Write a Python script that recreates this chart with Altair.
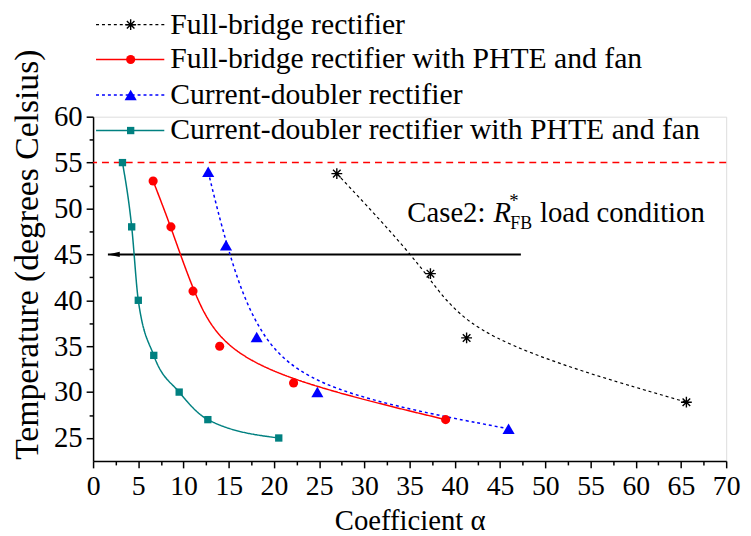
import altair as alt
import pandas as pd

# ---------------- data ----------------
fb_x = [26.95, 37.3, 41.3, 65.6]
fb_y = [53.8, 42.9, 35.9, 28.9]

fbp_x = [6.64, 8.61, 11.05, 14.0, 22.17, 38.98]
fbp_y = [53.0, 48.0, 41.0, 35.0, 31.0, 27.0]

cd_x = [12.73, 14.7, 18.09, 24.8, 45.94]
cd_y = [54.0, 46.0, 36.0, 30.0, 26.0]

cdp_x = [3.25, 4.27, 5.0, 6.71, 9.52, 12.69, 20.53]
cdp_y = [55.0, 48.0, 40.0, 34.0, 30.0, 27.0, 25.0]

series_names = [
    "Full-bridge rectifier",
    "Full-bridge rectifier with PHTE and fan",
    "Current-doubler rectifier",
    "Current-doubler rectifier with PHTE and fan",
]

limit_temp = [55.0]
arrow_y = [45.0]
arrow_from = [47.3]
arrow_to = [1.64]

x_ticks = [0, 2.5, 5, 7.5, 10, 12.5, 15, 17.5, 20, 22.5, 25, 27.5, 30, 32.5, 35,
           37.5, 40, 42.5, 45, 47.5, 50, 52.5, 55, 57.5, 60, 62.5, 65, 67.5, 70]
y_ticks = [25, 27.5, 30, 32.5, 35, 37.5, 40, 42.5, 45, 47.5, 50, 52.5, 55, 57.5, 60]

FONT = "Liberation Serif"
W, H = 640, 348

xs = alt.Scale(domain=[0, 70], nice=False, zero=False)
ys = alt.Scale(domain=[22.5, 60], nice=False, zero=False)

major_tick = {"condition": {"test": "datum.value % 5 === 0", "value": 7}, "value": 4}

xaxis = alt.Axis(
    values=x_ticks, grid=False, title="Coefficient α",
    labelExpr="datum.value % 5 === 0 ? format(datum.value, 'd') : ''",
    tickSize=major_tick, tickWidth=1.5, tickColor="black",
    domainColor="black", domainWidth=1.5,
    labelFont=FONT, labelFontSize=28, labelColor="black", labelPadding=5,
    labelOverlap=False, labelFlush=False,
    titleFont=FONT, titleFontSize=29, titleFontWeight="normal", titleColor="black",
    titleY=60, titleBaseline="middle",
)
yaxis = alt.Axis(
    values=y_ticks, grid=False, title="Temperature (degrees Celsius)",
    labelExpr="datum.value % 5 === 0 ? format(datum.value, 'd') : ''",
    tickSize=major_tick, tickWidth=1.5, tickColor="black",
    domainColor="black", domainWidth=1.5,
    labelFont=FONT, labelFontSize=29, labelColor="black", labelPadding=4,
    labelOverlap=False, labelFlush=False,
    titleFont=FONT, titleFontSize=34, titleFontWeight="normal", titleColor="black",
    titleX=-66, titleY=139, titleAngle=-90, titleAlign="center", titleBaseline="middle",
)

X = alt.X("x:Q", scale=xs, axis=xaxis)
Y = alt.Y("y:Q", scale=ys, axis=yaxis)

ASTER = "M0,-1L0,1M-1,0L1,0M-0.7,-0.7L0.7,0.7M-0.7,0.7L0.7,-0.7"
ARROW = "M0,0L1,-0.22L1,0.22Z"

styles = [
    dict(x=fb_x, y=fb_y, color="black", dash=[3, 3], width=1.2, interp="basis",
         shape=ASTER, filled=False, size=120, pcolor="black"),
    dict(x=fbp_x, y=fbp_y, color="#ff0000", dash=[1, 0], width=1.5, interp="basis",
         shape="circle", filled=True, size=85, pcolor="#ff0000"),
    dict(x=cd_x, y=cd_y, color="#0000ff", dash=[3, 3], width=1.5, interp="basis",
         shape="triangle-up", filled=True, size=150, pcolor="#0000ff"),
    dict(x=cdp_x, y=cdp_y, color="#008080", dash=[1, 0], width=1.5, interp="monotone",
         shape="square", filled=True, size=55, pcolor="#008080"),
]

layers = []

# limit line at 55
layers.append(
    alt.Chart(pd.DataFrame({"y": limit_temp})).mark_rule(
        color="#ff0000", strokeDash=[7, 5], strokeWidth=1.5
    ).encode(y=Y)
)

# arrow
arrow_df = pd.DataFrame({"x": arrow_from, "x2": arrow_to, "y": arrow_y})
layers.append(
    alt.Chart(arrow_df).mark_rule(color="black", strokeWidth=2).encode(
        x=X, x2="x2:Q", y=Y)
)
layers.append(
    alt.Chart(pd.DataFrame({"x": arrow_to, "y": arrow_y})).mark_point(
        shape=ARROW, filled=True, color="black", size=576, opacity=1
    ).encode(x=X, y=Y)
)

for s in styles:
    df = pd.DataFrame({"x": s["x"], "y": s["y"]})
    layers.append(
        alt.Chart(df).mark_line(
            color=s["color"], strokeDash=s["dash"], strokeWidth=s["width"],
            interpolate=s["interp"]
        ).encode(x=X, y=Y)
    )
for s in styles:
    df = pd.DataFrame({"x": s["x"], "y": s["y"]})
    if s["filled"]:
        mk = alt.Chart(df).mark_point(shape=s["shape"], filled=True, color=s["pcolor"],
                                      size=s["size"], opacity=1)
    else:
        mk = alt.Chart(df).mark_point(shape=s["shape"], filled=False, color=s["pcolor"],
                                      size=s["size"], strokeWidth=1.4, opacity=1)
    layers.append(mk.encode(x=X, y=Y))

# annotation "Case2: R*_FB load condition"
ann_x = [34.75]
ann_y = [48.5]
ann_df = pd.DataFrame({"x": ann_x, "y": ann_y})
ann_parts = [
    ("Case2:", 0, 0, 29, "normal"),
    ("R", 87, 0, 29, "italic"),
    ("*", 103, -15, 19, "normal"),
    ("FB", 104, 7, 18, "normal"),
    ("load condition", 134, 0, 29, "normal"),
]
for txt, dx, dy, fs, st in ann_parts:
    layers.append(
        alt.Chart(ann_df).mark_text(
            text=txt, align="left", baseline="alphabetic", dx=dx, dy=dy,
            font=FONT, fontSize=fs, fontStyle=st, color="black"
        ).encode(x=X, y=Y)
    )

# legend (manual)
leg_rows = [-93, -57.8, -22, 14]
for s, name, ry in zip(styles, series_names, leg_rows):
    one = pd.DataFrame({"k": [0]})
    layers.append(
        alt.Chart(one).mark_rule(color=s["color"], strokeDash=s["dash"],
                                 strokeWidth=s["width"]).encode(
            x=alt.value(3), x2=alt.value(72), y=alt.value(ry))
    )
    if s["filled"]:
        pm = alt.Chart(one).mark_point(shape=s["shape"], filled=True, color=s["pcolor"],
                                       size=s["size"], opacity=1)
    else:
        pm = alt.Chart(one).mark_point(shape=s["shape"], filled=False, color=s["pcolor"],
                                       size=s["size"], strokeWidth=1.4, opacity=1)
    layers.append(pm.encode(x=alt.value(38), y=alt.value(ry)))
    layers.append(
        alt.Chart(one).mark_text(text=name, align="left", baseline="middle",
                                 font=FONT, fontSize=30, color="black").encode(
            x=alt.value(78), y=alt.value(ry))
    )

chart = alt.layer(*layers).properties(
    width=W, height=H,
    autosize=alt.AutoSizeParams(type="none"),
    padding={"left": 86, "top": 107, "right": 17, "bottom": 73},
).configure_view(stroke=None).configure(background="white")

chart.save("out.html", embed_options={"renderer": "svg", "actions": False})
